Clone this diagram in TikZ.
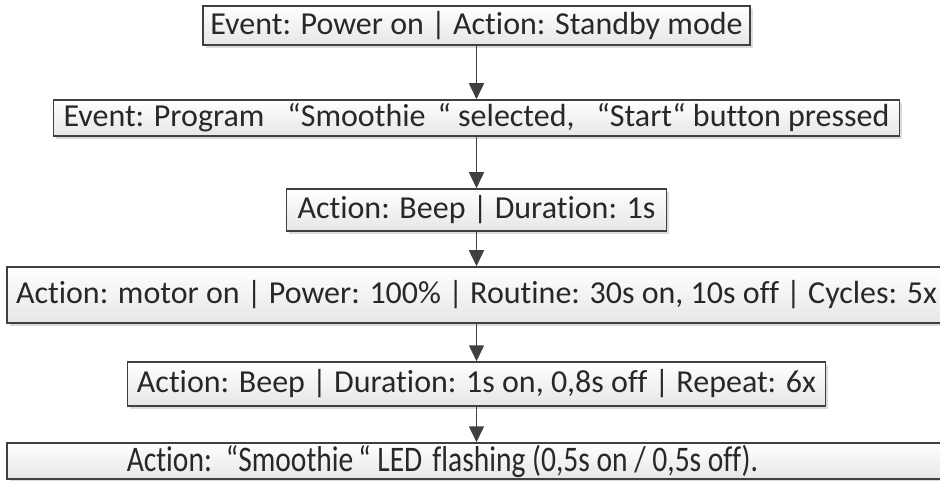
\documentclass[tikz,border=0pt]{standalone}
\usepackage{fontspec}
\setmainfont[Ligatures=NoCommon]{Carlito}
\newfontfamily\narrowfont[FakeStretch=0.82, Ligatures=NoCommon]{Carlito}
\usepackage{xcolor}
\usepackage{tikz}
\usetikzlibrary{arrows.meta,shadows}
\definecolor{linegray}{RGB}{64,64,64}
\definecolor{textgray}{RGB}{40,40,40}
\definecolor{boxbottom}{RGB}{230,230,230}

\begin{document}
\begin{tikzpicture}[x=1pt, y=-1pt,
    stepbox/.style={draw=linegray, line width=1.5pt, top color=white, bottom color=boxbottom,
        text=textgray, inner sep=0pt, font=\fontsize{32}{33}\selectfont,
        drop shadow={shadow xshift=2.5pt, shadow yshift=-3pt, fill=black!14, opacity=1}},
    flow/.style={draw=linegray, line width=1.5pt, -{Triangle[width=15pt,length=16pt]}}]
    \useasboundingbox (0,0) rectangle (940,481);
    \clip (0,0) rectangle (940,481);

    % Boxes
    \node[stepbox, minimum width=547pt, minimum height=39pt]
        (b1) at (476.5,25.5) {Event: Power on | Action: Standby mode};
    \node[stepbox, minimum width=846pt, minimum height=36pt]
        (b2) at (476.5,118) {Event: Program\hspace{23pt}“Smoothie\hspace{12pt}“ selected,\hspace{22pt}“Start“ button pressed};
    \node[stepbox, minimum width=380pt, minimum height=42pt]
        (b3) at (476.5,210) {Action: Beep | Duration: 1s};
    \node[stepbox, minimum width=939pt, minimum height=56pt]
        (b4) at (476.5,295) {Action: motor on | Power: 100\% | Routine: 30s on, 10s off | Cycles: 5x};
    \node[stepbox, minimum width=698pt, minimum height=44pt]
        (b5) at (476.5,384) {Action: Beep | Duration: 1s on, 0,8s off | Repeat: 6x};
    \node[stepbox, minimum width=939pt, minimum height=36pt, font=\narrowfont\fontsize{36}{37}\selectfont]
        (b6) at (476.5,461) {Action:\hspace{14pt}“Smoothie\hspace{5pt}“ LED\hspace{10pt}flashing (0,5s on / 0,5s off).\hspace*{68pt}};

    % Arrows
    \foreach \i/\j in {b1/b2, b2/b3, b3/b4, b4/b5, b5/b6} {
        \draw[flow] (\i.south) -- (\j.north);
    }
\end{tikzpicture}
\end{document}
